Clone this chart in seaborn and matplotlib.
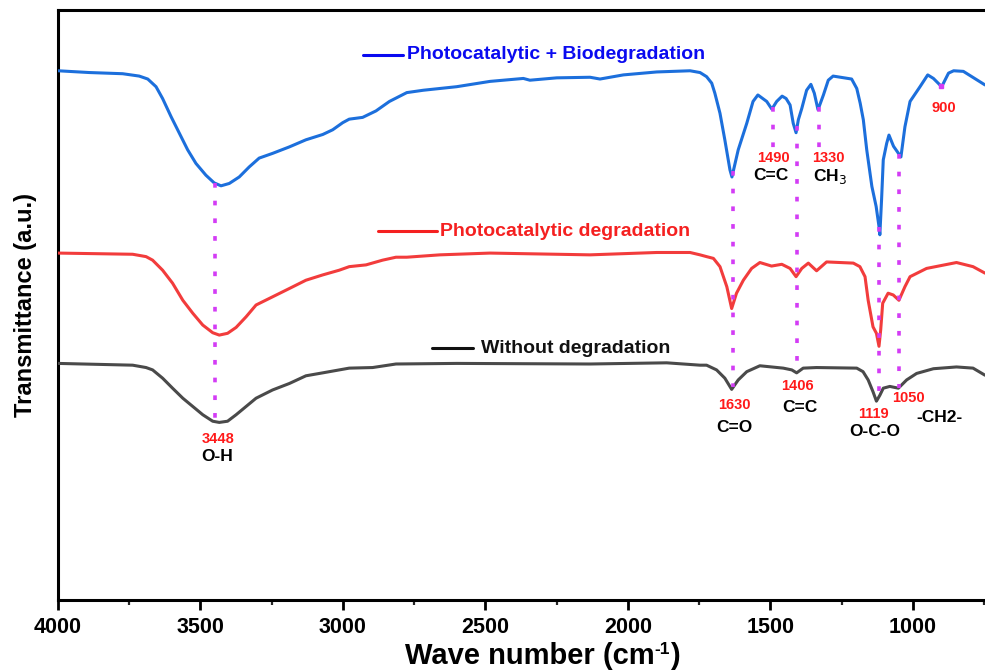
import numpy as np
import pandas as pd
import matplotlib
matplotlib.use("Agg")
import matplotlib.pyplot as plt
import seaborn as sns

# ---------------- data ----------------
wn_bio = [4000, 3890, 3773, 3715, 3685, 3656, 3633, 3603, 3574, 3545, 3516, 3481, 3452, 3428,
          3399, 3364, 3329, 3294, 3247, 3188, 3130, 3071, 3036, 3001, 2978, 2931, 2884, 2837,
          2776, 2718, 2601, 2484, 2367, 2344, 2250, 2133, 2098, 2016, 1899, 1782, 1747, 1724,
          1706, 1695, 1677, 1660, 1642, 1635, 1613, 1583, 1561, 1544, 1513, 1495, 1478, 1459,
          1445, 1431, 1420, 1410, 1402, 1390, 1373, 1358, 1346, 1333, 1314, 1297, 1280, 1215,
          1197, 1185, 1174, 1162, 1144, 1129, 1119, 1116, 1110, 1104, 1092, 1084, 1068, 1042,
          1028, 1010, 975, 948, 928, 899, 875, 857, 823, 747]
t_bio = [89.7, 89.4, 89.2, 88.8, 88.3, 87.0, 85.0, 81.9, 79.1, 76.3, 74.0, 72.0, 70.7, 70.2,
         70.6, 71.7, 73.4, 74.9, 75.7, 76.8, 78.0, 78.9, 79.7, 80.9, 81.5, 81.8, 82.9, 84.5,
         86.0, 86.4, 87.0, 87.9, 88.4, 88.1, 88.5, 88.6, 88.3, 89.0, 89.5, 89.7, 89.4, 88.7,
         87.6, 85.9, 82.5, 78.0, 72.9, 71.7, 76.3, 80.8, 84.5, 85.6, 84.5, 83.2, 84.5, 85.4,
         85.0, 83.9, 80.8, 79.2, 81.4, 83.3, 86.4, 87.4, 85.9, 83.1, 85.6, 88.1, 88.8, 88.3,
         86.7, 84.2, 81.4, 76.3, 70.1, 66.7, 63.3, 61.9, 67.8, 74.6, 77.4, 78.8, 76.9, 75.1,
         80.2, 84.5, 87.0, 89.0, 88.4, 87.0, 89.3, 89.7, 89.6, 87.3]

wn_photo = [4000, 3738, 3691, 3668, 3633, 3598, 3562, 3527, 3492, 3457, 3434, 3405, 3375, 3340,
            3305, 3259, 3188, 3130, 3071, 3013, 2978, 2919, 2861, 2814, 2776, 2660, 2484, 2133,
            1899, 1782, 1747, 1724, 1700, 1677, 1653, 1636, 1619, 1595, 1566, 1537, 1496, 1460,
            1431, 1410, 1390, 1367, 1338, 1303, 1209, 1186, 1168, 1157, 1140, 1128, 1119, 1113,
            1106, 1087, 1069, 1049, 1028, 1010, 952, 847, 789, 747]
t_photo = [58.8, 58.6, 58.2, 57.6, 55.9, 53.7, 50.8, 48.6, 46.6, 45.3, 44.9, 45.2, 46.2, 48.0,
           50.0, 51.1, 52.8, 54.2, 55.1, 55.9, 56.5, 56.8, 57.6, 58.1, 58.1, 58.5, 58.8, 58.5,
           58.9, 58.9, 58.5, 58.2, 57.9, 56.5, 53.1, 49.4, 52.0, 54.2, 56.2, 57.2, 56.6, 56.9,
           56.2, 54.8, 56.2, 57.1, 55.8, 57.3, 57.1, 56.5, 54.8, 50.8, 46.3, 45.2, 43.0, 45.8,
           50.3, 52.0, 51.7, 50.8, 53.1, 54.8, 56.2, 57.2, 56.5, 55.4]

wn_raw = [4000, 3738, 3691, 3668, 3633, 3598, 3562, 3527, 3492, 3457, 3434, 3405, 3375, 3340,
          3305, 3247, 3188, 3130, 3071, 2978, 2896, 2814, 2601, 2133, 1864, 1747, 1724, 1689,
          1660, 1636, 1613, 1583, 1537, 1455, 1425, 1408, 1385, 1338, 1197, 1175, 1157, 1140,
          1128, 1116, 1104, 1081, 1051, 1022, 987, 928, 847, 789, 747]
t_raw = [40.1, 39.8, 39.4, 39.0, 37.6, 35.9, 34.2, 32.8, 31.4, 30.3, 30.1, 30.3, 31.4, 32.8,
         34.2, 35.6, 36.7, 38.0, 38.5, 39.3, 39.4, 40.0, 40.1, 40.0, 40.2, 39.8, 39.8, 39.0,
         37.6, 35.7, 37.3, 38.7, 39.7, 39.3, 39.0, 38.5, 39.3, 39.4, 39.3, 38.7, 37.3, 35.3,
         33.7, 34.7, 35.9, 36.2, 35.9, 37.3, 38.4, 39.2, 39.5, 39.3, 38.1]

series_names = ["Photocatalytic + Biodegradation", "Photocatalytic degradation", "Without degradation"]
series_colors = ["#1c6fdc", "#f23c3c", "#4a4a4a"]
legend_colors = ["#0a0af0", "#f52020", "#111111"]

x_ticks = [4000, 3500, 3000, 2500, 2000, 1500, 1000]

# ---------------- build table ----------------
frames = []
for name, wn, t in zip(series_names, [wn_bio, wn_photo, wn_raw], [t_bio, t_photo, t_raw]):
    frames.append(pd.DataFrame({"wn": wn, "T": t, "series": name}))
df = pd.concat(frames, ignore_index=True)

# ---------------- figure ----------------
sns.set_theme(style="white")
plt.rcParams["font.family"] = ["Liberation Sans", "DejaVu Sans"]

fig = plt.figure(figsize=(9.85, 6.70), dpi=100)
ax = fig.add_axes([58 / 985, 1 - 600 / 670, 1 - 58 / 985, 590 / 670])

for name, col in zip(series_names, series_colors):
    sub = df[df["series"] == name]
    sns.lineplot(data=sub, x="wn", y="T", ax=ax, color=col, lw=2.2, sort=False,
                 estimator=None, legend=False, zorder=3)

ax.set_xlim(4000, 747)
ax.set_ylim(0, 100)

# dotted guide lines
mag = "#d33cf5"
dot = dict(color=mag, lw=2.6, linestyle=(0, (1.3, 3.6)), zorder=4)


def val(wn_list, t_list, w):
    return float(np.interp(w, wn_list[::-1], t_list[::-1]))


for w in [3448, 1630, 1406, 1119, 1050]:
    ax.plot([w, w], [val(wn_bio, t_bio, w), val(wn_raw, t_raw, w)], **dot)
for w in [1490, 1330]:
    ax.plot([w, w], [val(wn_bio, t_bio, w), 76.0], **dot)
ax.plot([900], [val(wn_bio, t_bio, 900)], marker="s", ms=3, color=mag, zorder=5, lw=0)

# annotations: numbers (red) and group labels (black)
num_kw = dict(color="#ff1a1a", fontsize=10.5, fontweight="bold", ha="center", va="center", zorder=6)
lab_kw = dict(color="black", fontsize=12.5, fontweight="bold", ha="center", va="center", zorder=6)

ax.text(3440, 27.3, "3448", **num_kw)
ax.text(3440, 24.4, "O-H", **lab_kw)
ax.text(1628, 33.1, "1630", **num_kw)
ax.text(1628, 29.3, "C=O", **lab_kw)
ax.text(1405, 36.3, "1406", **num_kw)
ax.text(1396, 32.7, "C=C", **lab_kw)
ax.text(1137, 31.5, "1119", **num_kw)
ax.text(1133, 28.6, "O-C-O", **lab_kw)
ax.text(1014, 34.2, "1050", **num_kw)
ax.text(905, 31.0, "-CH2-", **lab_kw)
ax.text(1488, 74.9, "1490", **num_kw)
ax.text(1498, 71.9, "C=C", **lab_kw)
ax.text(1298, 74.9, "1330", **num_kw)
ax.text(1291, 71.7, "CH$_3$", **lab_kw)
ax.text(891, 83.4, "900", **num_kw)

# legend keys as free labels
leg_pos = [((2930, 2789), 92.4, 2775), ((2877, 2670), 62.5, 2660), ((2688, 2544), 42.7, 2516)]
for (x0x1, yy, xt), name, lc in zip(leg_pos, series_names, legend_colors):
    ax.plot(list(x0x1), [yy, yy], color=lc, lw=2.2, zorder=5)
    ax.text(xt, yy, name, color=lc, fontsize=14, fontweight="bold", ha="left", va="center", zorder=6)

# axes styling
ax.set_xticks(x_ticks)
ax.set_xticklabels([str(v) for v in x_ticks], fontweight="bold", fontsize=15.5)
ax.set_xticks(np.arange(3750, 747, -500), minor=True)
ax.set_yticks([])
ax.tick_params(axis="x", which="major", direction="out", length=7.5, width=2, bottom=True, pad=5, colors="black")
ax.tick_params(axis="x", which="minor", direction="out", length=3.5, width=1.6, bottom=True)
for s in ["left", "bottom", "top"]:
    ax.spines[s].set_visible(True)
    ax.spines[s].set_color("black")
    ax.spines[s].set_linewidth(2.2)
ax.spines["right"].set_visible(False)
ax.set_xlabel("")
ax.set_ylabel("Transmittance (a.u.)", fontsize=17, fontweight="bold", labelpad=15, color="black")
ax.grid(False)

# x label with a small superscript, assembled from pieces
fig.canvas.draw()
renderer = fig.canvas.get_renderer()
W, H = fig.bbox.width, fig.bbox.height
base_y = 1 - 664 / 670
parts = [("Wave number (cm", 21, 0), ("-1", 12.5, 10), (")", 21, 0)]
texts = []
for s, fs, dy in parts:
    t = fig.text(0, base_y + dy / H, s, fontsize=fs, fontweight="bold", color="black",
                 ha="left", va="baseline")
    texts.append(t)
widths = [t.get_window_extent(renderer).width for t in texts]
total = sum(widths)
x = 542 - total / 2
for t, w in zip(texts, widths):
    t.set_x(x / W)
    x += w

fig.savefig("out.png", dpi=100)
